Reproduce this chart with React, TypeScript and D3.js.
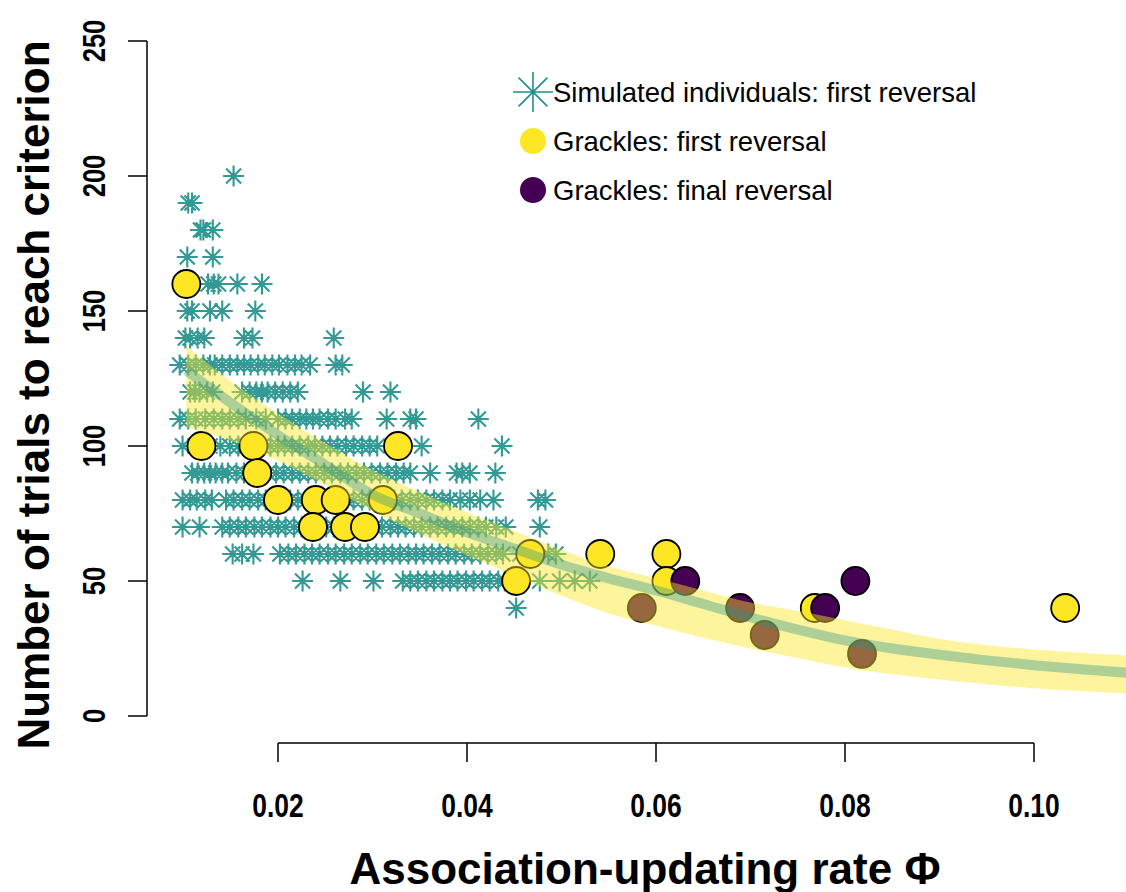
import React from "react";
import * as d3 from "d3";

// ---- Simulated individuals (phi values per trials level) ----
const sim200 = [0.0153];
const sim190 = [0.0105, 0.0109];
const sim180 = [0.0118, 0.0121, 0.0131];
const sim170 = [0.0104, 0.0131];
const sim160 = [0.0126, 0.0132, 0.0137, 0.0157, 0.0183];
const sim150 = [0.0104, 0.0109, 0.0128, 0.0141, 0.0176];
const sim140 = [0.0102, 0.0107, 0.0115, 0.0122, 0.0164, 0.0173, 0.0259];
const sim130 = [0.0096, 0.0105, 0.0113, 0.0121, 0.0128, 0.0133, 0.0141, 0.0149, 0.0157, 0.0164, 0.0171, 0.0179, 0.0186, 0.0194, 0.0201, 0.021, 0.0218, 0.0225, 0.0234, 0.0261, 0.0268];
const sim120 = [0.0107, 0.0112, 0.0117, 0.0125, 0.0131, 0.0162, 0.017, 0.0177, 0.0183, 0.0189, 0.0197, 0.0205, 0.0213, 0.0221, 0.029, 0.0319];
const sim110 = [0.0096, 0.0105, 0.0113, 0.0123, 0.0132, 0.0141, 0.0149, 0.0158, 0.0166, 0.0177, 0.0187, 0.02, 0.0208, 0.0215, 0.0223, 0.023, 0.0237, 0.0244, 0.0253, 0.0261, 0.0271, 0.0278, 0.0315, 0.034, 0.0346, 0.0412];
const sim100 = [0.0099, 0.0112, 0.0128, 0.0139, 0.0149, 0.0158, 0.0166, 0.0176, 0.0183, 0.0192, 0.02, 0.0207, 0.0215, 0.0223, 0.0232, 0.0239, 0.0247, 0.0255, 0.0263, 0.0272, 0.028, 0.0289, 0.0297, 0.0305, 0.0352, 0.0437];
const sim90 = [0.0109, 0.0115, 0.0122, 0.0128, 0.0134, 0.0141, 0.0147, 0.0156, 0.0164, 0.0172, 0.0181, 0.0189, 0.0198, 0.0206, 0.0215, 0.0223, 0.0232, 0.024, 0.0249, 0.0257, 0.0266, 0.0274, 0.0283, 0.0291, 0.0299, 0.0308, 0.0316, 0.0325, 0.0333, 0.034, 0.0361, 0.0389, 0.0395, 0.0403, 0.043];
const sim80 = [0.0099, 0.0107, 0.0114, 0.0123, 0.013, 0.0145, 0.0153, 0.0162, 0.017, 0.0179, 0.0187, 0.0196, 0.0204, 0.0213, 0.0221, 0.023, 0.0238, 0.0247, 0.0255, 0.0263, 0.0272, 0.028, 0.0289, 0.0297, 0.0306, 0.0314, 0.0323, 0.0331, 0.034, 0.0348, 0.0357, 0.0365, 0.0374, 0.0382, 0.0393, 0.0403, 0.0414, 0.0428, 0.0475, 0.0483];
const sim70 = [0.0099, 0.0117, 0.0141, 0.0149, 0.0158, 0.0166, 0.0175, 0.0183, 0.0192, 0.02, 0.0208, 0.0217, 0.0225, 0.0234, 0.0242, 0.0251, 0.0259, 0.0268, 0.0276, 0.0285, 0.0293, 0.0302, 0.031, 0.0319, 0.0327, 0.0335, 0.0344, 0.0352, 0.0361, 0.0369, 0.0378, 0.0386, 0.0395, 0.0403, 0.0412, 0.042, 0.0431, 0.0441, 0.0477];
const sim60 = [0.0152, 0.0162, 0.0174, 0.0202, 0.0211, 0.0219, 0.0228, 0.0236, 0.0244, 0.0253, 0.0261, 0.027, 0.0278, 0.0287, 0.0295, 0.0304, 0.0312, 0.0321, 0.0329, 0.0338, 0.0346, 0.0354, 0.0363, 0.0371, 0.038, 0.0388, 0.0397, 0.0405, 0.0414, 0.0422, 0.0431, 0.0438, 0.0456, 0.0486, 0.0494];
const sim50 = [0.0226, 0.0266, 0.0301, 0.0332, 0.034, 0.0348, 0.0357, 0.0365, 0.0374, 0.0382, 0.039, 0.0399, 0.0407, 0.0416, 0.0424, 0.0433, 0.044, 0.0477, 0.0498, 0.0514, 0.053];
const sim40 = [0.0452];

const simLevels = [200, 190, 180, 170, 160, 150, 140, 130, 120, 110, 100, 90, 80, 70, 60, 50, 40];
const simPhiByLevel = [sim200, sim190, sim180, sim170, sim160, sim150, sim140, sim130, sim120, sim110, sim100, sim90, sim80, sim70, sim60, sim50, sim40];

// ---- Grackles ----
const firstPhi = [0.0103, 0.0119, 0.0174, 0.0178, 0.02, 0.024, 0.0261, 0.0311, 0.0237, 0.0271, 0.0292, 0.0327, 0.0467, 0.0452, 0.0541, 0.0611, 0.0611, 0.0768, 0.1033];
const firstTrials = [160, 100, 100, 90, 80, 80, 80, 80, 70, 70, 70, 100, 60, 50, 60, 60, 50, 40, 40];
const finalPhi = [0.0585, 0.0631, 0.0689, 0.0715, 0.0779, 0.0811, 0.0818];
const finalTrials = [40, 50, 40, 30, 40, 50, 23];

// ---- Model curve with interval ----
const curvePhi = [0.0103, 0.015, 0.02, 0.025, 0.03, 0.035, 0.04, 0.045, 0.05, 0.055, 0.06, 0.065, 0.07, 0.075, 0.08, 0.085, 0.09, 0.095, 0.1, 0.105, 0.11];
const curveMean = [128, 116, 104, 93, 82, 75, 68, 62, 56, 51, 46.5, 41.5, 36.5, 32, 28, 25, 22.7, 20.6, 18.8, 17.3, 16];
const curveUpper = [137, 124, 112, 101, 91, 83, 75.5, 68.5, 61.5, 55.5, 51, 46.5, 42, 39, 35.5, 32, 28.5, 26.2, 24.6, 23.4, 22.4];
const curveLower = [107, 102, 94.5, 85.5, 76, 67.5, 59.5, 52, 44.5, 38, 33.5, 29, 25, 21.5, 18, 15.5, 13.5, 11.8, 10.3, 9.3, 8.4];

const xTicks = [0.02, 0.04, 0.06, 0.08, 0.1];
const xTickLabels = ["0.02", "0.04", "0.06", "0.08", "0.10"];
const yTicks = [0, 50, 100, 150, 200, 250];

const legendLabels = [
  "Simulated individuals: first reversal",
  "Grackles: first reversal",
  "Grackles: final reversal",
];

const TEAL = "#21908C";
const YELLOW = "#FDE725";
const PURPLE = "#440154";

function asterisk(cx: number, cy: number, r: number) {
  const d = r * 0.72;
  return `M${cx - r},${cy}H${cx + r}M${cx},${cy - r}V${cy + r}M${cx - d},${cy - d}L${cx + d},${cy + d}M${cx - d},${cy + d}L${cx + d},${cy - d}`;
}

export default function App() {
  const W = 1126;
  const H = 892;
  const x = d3.scaleLinear().domain([0.02, 0.1]).range([278, 1034]);
  const y = d3.scaleLinear().domain([0, 250]).range([716, 41]);

  const simPath = simLevels
    .map((lvl, i) => simPhiByLevel[i].map((p) => asterisk(x(p), y(lvl), 10.5)).join(""))
    .join("");

  const curveData = curvePhi.map((p, i) => ({ p, m: curveMean[i], lo: curveLower[i], hi: curveUpper[i] }));
  const area = d3
    .area<{ p: number; m: number; lo: number; hi: number }>()
    .x((d) => x(d.p))
    .y0((d) => y(d.lo))
    .y1((d) => y(d.hi))
    .curve(d3.curveMonotoneX);
  const line = d3
    .line<{ p: number; m: number; lo: number; hi: number }>()
    .x((d) => x(d.p))
    .y((d) => y(d.m))
    .curve(d3.curveMonotoneX);

  const sans = "'Liberation Sans', Arial, Helvetica, sans-serif";

  return (
    <svg
      width={W}
      height={H}
      style={{ position: "absolute", left: 0, top: 0, background: "#fff" }}
    >
      <rect x={0} y={0} width={W} height={H} fill="#fff" />
      {/* simulated asterisks */}
      <path d={simPath} fill="none" stroke={TEAL} strokeWidth={2.1} strokeOpacity={0.92} />
      {/* grackles first reversal */}
      {firstPhi.map((p, i) => (
        <circle key={"f" + i} cx={x(p)} cy={y(firstTrials[i])} r={14} fill={YELLOW} stroke="#000" strokeWidth={1.8} />
      ))}
      {/* grackles final reversal */}
      {finalPhi.map((p, i) => (
        <circle key={"l" + i} cx={x(p)} cy={y(finalTrials[i])} r={14} fill={PURPLE} stroke="#000" strokeWidth={1.8} />
      ))}
      {/* model band and line */}
      <path d={area(curveData) || ""} fill={YELLOW} fillOpacity={0.45} stroke="none" />
      <path d={line(curveData) || ""} fill="none" stroke={TEAL} strokeOpacity={0.36} strokeWidth={10} />

      {/* y axis */}
      <line x1={147} x2={147} y1={y(250)} y2={y(0)} stroke="#000" strokeWidth={1.5} />
      {yTicks.map((t) => (
        <g key={"yt" + t}>
          <line x1={128} x2={147} y1={y(t)} y2={y(t)} stroke="#000" strokeWidth={1.5} />
          <text
            transform={`translate(93,${y(t)}) rotate(-90) scale(0.8,1)`}
            textAnchor="middle"
            dy="0.36em"
            fontFamily={sans}
            fontWeight="bold"
            fontSize={32}
            fill="#000"
          >
            {t}
          </text>
        </g>
      ))}
      {/* x axis */}
      <line x1={x(0.02)} x2={x(0.1)} y1={743} y2={743} stroke="#000" strokeWidth={1.5} />
      {xTicks.map((t, i) => (
        <g key={"xt" + i}>
          <line x1={x(t)} x2={x(t)} y1={743} y2={762} stroke="#000" strokeWidth={1.5} />
          <text
            transform={`translate(${x(t)},817) scale(0.8,1)`}
            textAnchor="middle"
            fontFamily={sans}
            fontWeight="bold"
            fontSize={33}
            fill="#000"
          >
            {xTickLabels[i]}
          </text>
        </g>
      ))}

      {/* axis titles */}
      <text x={645} y={884} textAnchor="middle" fontFamily={sans} fontWeight="bold" fontSize={44} fill="#000">
        Association-updating rate Φ
      </text>
      <text
        transform={`translate(33,395) rotate(-90)`}
        textAnchor="middle"
        dy="0.36em"
        fontFamily={sans}
        fontWeight="bold"
        fontSize={44}
        fill="#000"
      >
        Number of trials to reach criterion
      </text>

      {/* legend */}
      <path d={asterisk(533, 92, 20)} fill="none" stroke={TEAL} strokeWidth={1.6} />
      <circle cx={533} cy={141} r={13} fill={YELLOW} />
      <circle cx={533} cy={190} r={13} fill={PURPLE} />
      {legendLabels.map((lab, i) => (
        <text key={"lg" + i} x={553} y={[92, 141, 190][i] + 9.5} fontFamily={sans} fontSize={27.5} fill="#000">
          {lab}
        </text>
      ))}
    </svg>
  );
}
